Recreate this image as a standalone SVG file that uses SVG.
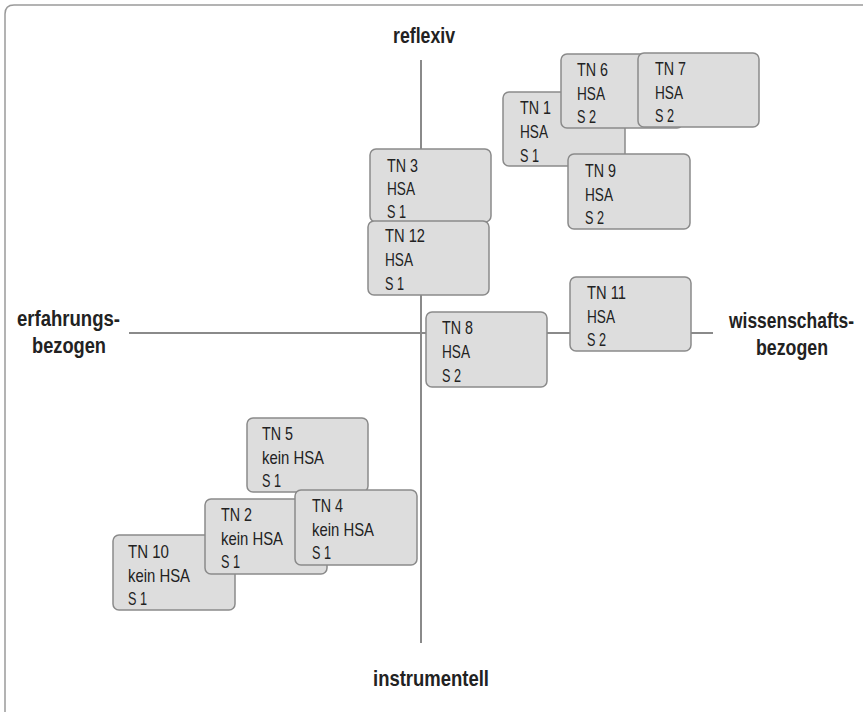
<svg xmlns="http://www.w3.org/2000/svg" width="863" height="712" viewBox="0 0 863 712">
<style>
.box{fill:#dddddd;stroke:#8a8a8a;stroke-width:1.5}
.t{font-family:"Liberation Sans Narrow","Liberation Sans",Arial,sans-serif;font-size:19px;fill:#222}
.ax{font-family:"Liberation Sans Narrow","Liberation Sans",Arial,sans-serif;font-size:22px;font-weight:bold;fill:#222}
.axis{stroke:#8a8a8a;stroke-width:2;fill:none}
</style>
<rect width="863" height="712" fill="#ffffff"/>
<path d="M5,712 V14 Q5,5 14,5 H863" fill="none" stroke="#9a9a9a" stroke-width="1.5"/>
<g id="connectors">
<line class="axis" x1="421" y1="60" x2="421" y2="643"/>
<line class="axis" x1="129" y1="333" x2="713" y2="333"/>
</g>
<g id="labels">
<text class="ax" x="393" y="43" textLength="62" lengthAdjust="spacingAndGlyphs">reflexiv</text>
<text class="ax" x="373" y="686" textLength="116" lengthAdjust="spacingAndGlyphs">instrumentell</text>
<text class="ax" x="17" y="326" textLength="103" lengthAdjust="spacingAndGlyphs">erfahrungs-</text>
<text class="ax" x="32" y="353" textLength="74" lengthAdjust="spacingAndGlyphs">bezogen</text>
<text class="ax" x="854" y="328" text-anchor="end" textLength="125" lengthAdjust="spacingAndGlyphs">wissenschafts-</text>
<text class="ax" x="828" y="355" text-anchor="end" textLength="72" lengthAdjust="spacingAndGlyphs">bezogen</text>
</g>
<g id="tn1"><rect class="box" x="503" y="92" width="122" height="74" rx="6"/><text class="t" x="520" y="114" textLength="31" lengthAdjust="spacingAndGlyphs">TN 1</text><text class="t" x="520" y="138" textLength="28" lengthAdjust="spacingAndGlyphs">HSA</text><text class="t" x="520" y="162" textLength="19" lengthAdjust="spacingAndGlyphs">S 1</text></g>
<g id="tn6"><rect class="box" x="561" y="54" width="122" height="74" rx="6"/><text class="t" x="577" y="76" textLength="31" lengthAdjust="spacingAndGlyphs">TN 6</text><text class="t" x="577" y="100" textLength="28" lengthAdjust="spacingAndGlyphs">HSA</text><text class="t" x="577" y="123" textLength="19" lengthAdjust="spacingAndGlyphs">S 2</text></g>
<g id="tn7"><rect class="box" x="638" y="53" width="121" height="74" rx="6"/><text class="t" x="655" y="75" textLength="31" lengthAdjust="spacingAndGlyphs">TN 7</text><text class="t" x="655" y="99" textLength="28" lengthAdjust="spacingAndGlyphs">HSA</text><text class="t" x="655" y="122" textLength="19" lengthAdjust="spacingAndGlyphs">S 2</text></g>
<g id="tn9"><rect class="box" x="568" y="154" width="122" height="75" rx="6"/><text class="t" x="585" y="177" textLength="31" lengthAdjust="spacingAndGlyphs">TN 9</text><text class="t" x="585" y="201" textLength="28" lengthAdjust="spacingAndGlyphs">HSA</text><text class="t" x="585" y="224" textLength="19" lengthAdjust="spacingAndGlyphs">S 2</text></g>
<g id="tn3"><rect class="box" x="370" y="149" width="121" height="73" rx="6"/><text class="t" x="387" y="172" textLength="31" lengthAdjust="spacingAndGlyphs">TN 3</text><text class="t" x="387" y="195" textLength="28" lengthAdjust="spacingAndGlyphs">HSA</text><text class="t" x="387" y="218" textLength="19" lengthAdjust="spacingAndGlyphs">S 1</text></g>
<g id="tn12"><rect class="box" x="368" y="221" width="121" height="74" rx="6"/><text class="t" x="385" y="242" textLength="40" lengthAdjust="spacingAndGlyphs">TN 12</text><text class="t" x="385" y="266" textLength="28" lengthAdjust="spacingAndGlyphs">HSA</text><text class="t" x="385" y="290" textLength="19" lengthAdjust="spacingAndGlyphs">S 1</text></g>
<g id="tn8"><rect class="box" x="426" y="312" width="121" height="75" rx="6"/><text class="t" x="442" y="334" textLength="31" lengthAdjust="spacingAndGlyphs">TN 8</text><text class="t" x="442" y="358" textLength="28" lengthAdjust="spacingAndGlyphs">HSA</text><text class="t" x="442" y="382" textLength="19" lengthAdjust="spacingAndGlyphs">S 2</text></g>
<g id="tn11"><rect class="box" x="570" y="277" width="121" height="74" rx="6"/><text class="t" x="587" y="299" textLength="39" lengthAdjust="spacingAndGlyphs">TN 11</text><text class="t" x="587" y="323" textLength="28" lengthAdjust="spacingAndGlyphs">HSA</text><text class="t" x="587" y="346" textLength="19" lengthAdjust="spacingAndGlyphs">S 2</text></g>
<g id="tn5"><rect class="box" x="247" y="418" width="121" height="74" rx="6"/><text class="t" x="262" y="440" textLength="31" lengthAdjust="spacingAndGlyphs">TN 5</text><text class="t" x="262" y="464" textLength="62" lengthAdjust="spacingAndGlyphs">kein HSA</text><text class="t" x="262" y="487" textLength="19" lengthAdjust="spacingAndGlyphs">S 1</text></g>
<g id="tn10"><rect class="box" x="113" y="535" width="122" height="75" rx="6"/><text class="t" x="128" y="558" textLength="41" lengthAdjust="spacingAndGlyphs">TN 10</text><text class="t" x="128" y="582" textLength="62" lengthAdjust="spacingAndGlyphs">kein HSA</text><text class="t" x="128" y="605" textLength="19" lengthAdjust="spacingAndGlyphs">S 1</text></g>
<g id="tn2"><rect class="box" x="205" y="499" width="122" height="75" rx="6"/><text class="t" x="221" y="521" textLength="31" lengthAdjust="spacingAndGlyphs">TN 2</text><text class="t" x="221" y="545" textLength="62" lengthAdjust="spacingAndGlyphs">kein HSA</text><text class="t" x="221" y="568" textLength="19" lengthAdjust="spacingAndGlyphs">S 1</text></g>
<g id="tn4"><rect class="box" x="295" y="490" width="122" height="75" rx="6"/><text class="t" x="312" y="512" textLength="31" lengthAdjust="spacingAndGlyphs">TN 4</text><text class="t" x="312" y="536" textLength="62" lengthAdjust="spacingAndGlyphs">kein HSA</text><text class="t" x="312" y="559" textLength="19" lengthAdjust="spacingAndGlyphs">S 1</text></g>
</svg>
